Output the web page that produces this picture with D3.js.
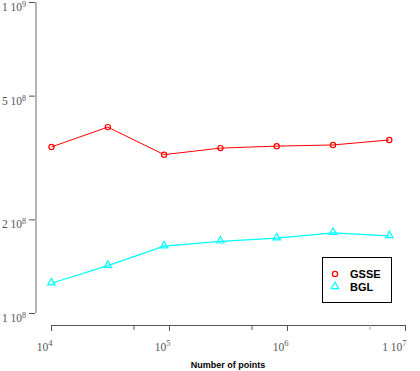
<!DOCTYPE html>
<title>GSSE vs BGL</title>
<body>
<script src="https://cdn.jsdelivr.net/npm/d3@7"></script>
<style>
  html, body { margin: 0; width: 420px; height: 371px; background: #fff; overflow: hidden; }
  text.tick { font-family: "Liberation Serif", "DejaVu Serif", serif; font-size: 11.5px; fill: #555; }
</style>
<script>
  // values
  var points = [1e4, 3e4, 9e4, 2.7e5, 8.1e5, 2.43e6, 7.29e6];
  var gsse = [3.42e8, 3.96e8, 3.23e8, 3.39e8, 3.44e8, 3.47e8, 3.60e8];
  var bgl = [1.246e8, 1.42e8, 1.64e8, 1.70e8, 1.74e8, 1.81e8, 1.77e8];
  var yTicks = [[1e9, "1", 9], [5e8, "5", 8], [2e8, "2", 8], [1e8, "1", 8]];
  var xTicks = [[1e4, "", 4], [1e5, "", 5], [1e6, "", 6], [1e7, "1 ", 7]];
  var xMinor = [5e4, 5e5, 5e6];

  var x = d3.scaleLog().domain([1e4, 1e7]).range([51.5, 405.5]);
  var y = d3.scaleLog().domain([1e8, 1e9]).range([313, 2]);

  var svg = d3.select("body").append("svg")
    .attr("width", 420).attr("height", 371);

  // y axis: light gray spine with dark ticks, labels hang below the tick
  svg.append("line")
    .attr("x1", 36).attr("x2", 36).attr("y1", y(1e9)).attr("y2", y(1e8))
    .attr("stroke", "#b4b4b4").attr("stroke-width", 2);
  yTicks.forEach(function(t) {
    svg.append("line")
      .attr("x1", 29).attr("x2", 35).attr("y1", y(t[0]) + 0.5).attr("y2", y(t[0]) + 0.5)
      .attr("stroke", "#555");
    var lab = svg.append("text").attr("class", "tick")
      .attr("x", 26).attr("y", y(t[0]) + 9).attr("text-anchor", "end");
    lab.append("tspan").text(t[1] + " 10");
    lab.append("tspan").attr("dy", -4).attr("font-size", "8px").text(t[2]);
  });

  // x axis
  svg.append("line")
    .attr("x1", x(1e4)).attr("x2", x(1e7)).attr("y1", 325.5).attr("y2", 325.5)
    .attr("stroke", "#555");
  xTicks.forEach(function(t) {
    svg.append("line")
      .attr("x1", x(t[0])).attr("x2", x(t[0])).attr("y1", 325).attr("y2", 331)
      .attr("stroke", "#555");
    var lab = svg.append("text").attr("class", "tick")
      .attr("x", x(t[0]) + 1).attr("y", 351).attr("text-anchor", "end");
    lab.append("tspan").text(t[1] + "10");
    lab.append("tspan").attr("dy", -5).attr("font-size", "8.5px").text(t[2]);
  });
  xMinor.forEach(function(v, i) {
    svg.append("line")
      .attr("x1", x(v)).attr("x2", x(v)).attr("y1", 325).attr("y2", 330)
      .attr("stroke", i == 2 ? "#aaa" : "#555");
  });

  svg.append("text")
    .attr("x", 228).attr("y", 367.5).attr("text-anchor", "middle")
    .attr("font-family", "Liberation Sans, Arial, sans-serif")
    .attr("font-size", "9px").attr("font-weight", "bold")
    .text("Number of points");

  var line = d3.line()
    .x(function(d, i) { return x(points[i]); })
    .y(function(d) { return y(d); });

  svg.append("path").datum(gsse).attr("d", line)
    .attr("fill", "none").attr("stroke", "#f00").attr("stroke-width", 1);
  svg.append("path").datum(bgl).attr("d", line)
    .attr("fill", "none").attr("stroke", "#0ff").attr("stroke-width", 1.2);

  var tri = d3.symbol().type(d3.symbolTriangle).size(24);

  svg.selectAll("circle.gsse").data(gsse).enter().append("circle")
    .attr("cx", function(d, i) { return x(points[i]); })
    .attr("cy", function(d) { return y(d); })
    .attr("r", 2.6).attr("fill", "none").attr("stroke", "#f00").attr("stroke-width", 1.2);

  svg.selectAll("path.bgl").data(bgl).enter().append("path")
    .attr("d", tri)
    .attr("transform", function(d, i) { return "translate(" + x(points[i]) + "," + (y(d) - 0.5) + ")"; })
    .attr("fill", "none").attr("stroke", "#0ff").attr("stroke-width", 1.2);

  // legend
  var leg = svg.append("g");
  leg.append("rect")
    .attr("x", 322.5).attr("y", 257.5).attr("width", 69).attr("height", 45)
    .attr("fill", "#fff").attr("stroke", "#000").attr("stroke-width", 1);
  leg.append("circle").attr("cx", 335).attr("cy", 274).attr("r", 2.6)
    .attr("fill", "none").attr("stroke", "#f00").attr("stroke-width", 1.2);
  leg.append("path").attr("d", tri).attr("transform", "translate(335,286.5)")
    .attr("fill", "none").attr("stroke", "#0ff").attr("stroke-width", 1.2);
  [["GSSE", 278], ["BGL", 291]].forEach(function(l) {
    leg.append("text").attr("x", 350).attr("y", l[1])
      .attr("font-family", "Liberation Sans, Arial, sans-serif")
      .attr("font-size", "11px").attr("font-weight", "bold")
      .text(l[0]);
  });
</script>
